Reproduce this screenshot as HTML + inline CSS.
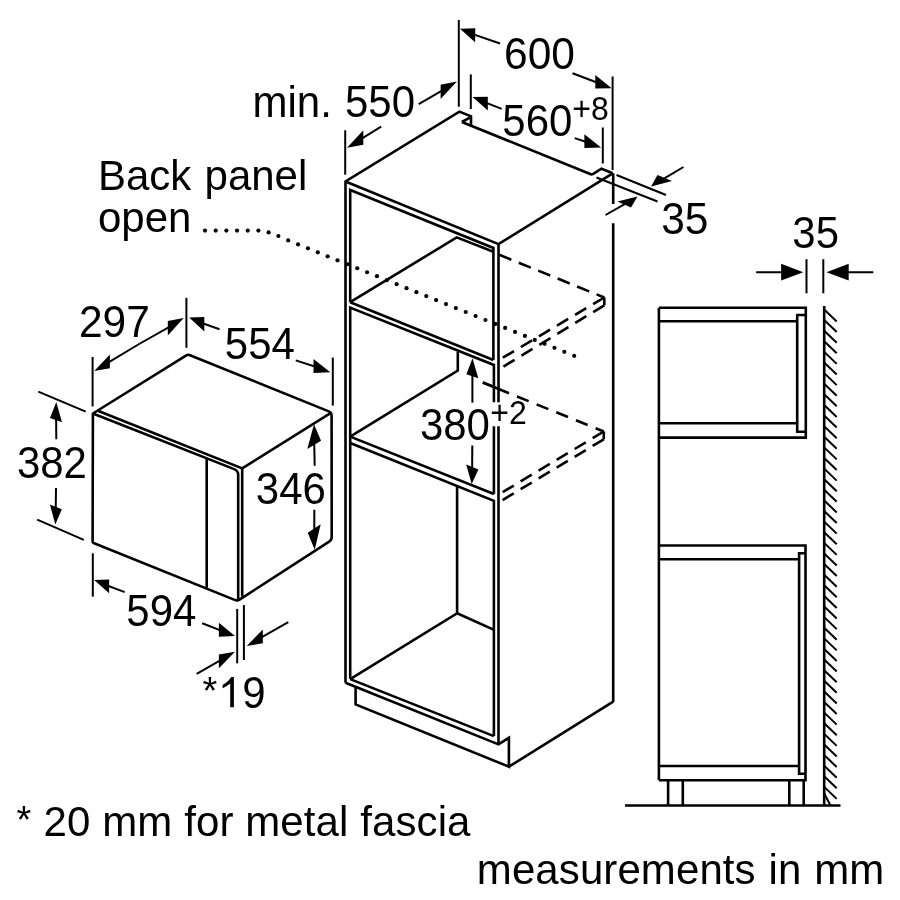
<!DOCTYPE html>
<html><head><meta charset="utf-8"><style>
html,body{margin:0;padding:0;background:#fff;}
svg{display:block;will-change:transform;}
text{font-family:"Liberation Sans",sans-serif;fill:#000;}
</style></head><body>
<svg width="900" height="900" viewBox="0 0 900 900">
<rect width="900" height="900" fill="#fff"/>
<g stroke="#000" stroke-linecap="butt" stroke-linejoin="miter" fill="none">
<path d="M92.91 413.49 L186.73 355.19 Q188 354.4 189.39 354.96 L328.82 411.37 Q331.6 412.5 331.6 415.5 L331.7 537 Q331.7 540 329.18 541.63 L239.92 599.37 Q237.4 601 234.62 599.88 L93.53 543.07 Q92.6 542.7 92.6 541.7 L92.9 413.51 Q92.9 413.5 92.91 413.49 Z" stroke-width="2.6" fill="none"/>
<line x1="242.2" y1="468.4" x2="330.1" y2="413.4" stroke-width="2.6"/>
<line x1="97.8" y1="410.8" x2="242.2" y2="468.4" stroke-width="2.6"/>
<line x1="242.2" y1="468.4" x2="242.2" y2="596.7" stroke-width="2.6"/>
<path d="M92.9 413.5 L234.2 469.13 Q238.2 470.73 238.2 474.63 L238.2 600" stroke-width="2.6" fill="none"/>
<line x1="206.7" y1="458.43" x2="206.7" y2="587.8" stroke-width="2.6"/>
<path d="M345.5 682.8 L345.5 181.5 L459.4 111.6 L471 116.4 L471 124.9" stroke-width="2.6" fill="none"/>
<path d="M461.9 122 L469.9 117.6" stroke-width="2.6" fill="none"/>
<line x1="461.9" y1="122" x2="592" y2="174.7" stroke-width="2.6"/>
<path d="M592 174.7 L601.5 168.7 L612.7 173.3" stroke-width="2.6" fill="none"/>
<path d="M345.5 181.5 L498.5 244.1 L612.7 173.3" stroke-width="2.6" fill="none"/>
<line x1="498.5" y1="244.1" x2="498.5" y2="402.3" stroke-width="2.6"/>
<line x1="498.5" y1="426.3" x2="498.5" y2="744.4" stroke-width="2.6"/>
<line x1="613.2" y1="173.3" x2="613.2" y2="204" stroke-width="2.6"/>
<line x1="613.2" y1="223.3" x2="613.2" y2="702" stroke-width="2.6"/>
<path d="M350.2 302.2 L350.2 190 L493.4 248 L493.4 360" stroke-width="2.6" fill="none"/>
<path d="M350.2 302.2 L456.7 237.4 L493.4 251.8" stroke-width="2.6" fill="none"/>
<line x1="350.2" y1="302.2" x2="493.4" y2="360" stroke-width="2.6"/>
<path d="M350.2 679.1 L350.2 307.6 L493.9 365 L493.9 402.3" stroke-width="2.6" fill="none"/>
<line x1="493.9" y1="426.3" x2="493.9" y2="494" stroke-width="2.6"/>
<path d="M457.8 352 L457.8 370.6 L350.2 436.6" stroke-width="2.6" fill="none"/>
<line x1="482.8" y1="382.5" x2="493.9" y2="386.9" stroke-width="2.6"/>
<line x1="350.2" y1="436.6" x2="493.9" y2="494" stroke-width="2.6"/>
<path d="M350.2 443 L493.9 500.9 L493.9 736.1" stroke-width="2.6" fill="none"/>
<path d="M457.1 486.7 L457.1 613.3 L350.2 679.1" stroke-width="2.6" fill="none"/>
<line x1="457.1" y1="613.3" x2="493.5" y2="629.6" stroke-width="2.6"/>
<line x1="350.2" y1="679.1" x2="493.9" y2="736.1" stroke-width="2.6"/>
<path d="M345.5 682.8 L498.5 744.4 L508.9 737.8 L508.9 766.7 L355.6 704.4 L355.6 686.9" stroke-width="2.6" fill="none"/>
<line x1="508.9" y1="766.7" x2="613.2" y2="701.7" stroke-width="2.6"/>
<line x1="499.3" y1="254.8" x2="604.3" y2="297.5" stroke-width="2.6" stroke-dasharray="13 8" stroke-dashoffset="0"/>
<path d="M604.3 297.5 L604.3 305.3" stroke-width="2.6" fill="none"/>
<line x1="604.3" y1="297.5" x2="499.3" y2="359.8" stroke-width="2.6" stroke-dasharray="13 8" stroke-dashoffset="0"/>
<line x1="604.3" y1="305.3" x2="499.3" y2="369.1" stroke-width="2.6" stroke-dasharray="13 8" stroke-dashoffset="0"/>
<line x1="482.8" y1="382.5" x2="509" y2="393.2" stroke-width="2.6"/>
<line x1="509" y1="393.2" x2="603.8" y2="431.5" stroke-width="2.6" stroke-dasharray="12.6 8.6" stroke-dashoffset="12.6"/>
<path d="M603.8 431.5 L603.8 439.3" stroke-width="2.6" fill="none"/>
<line x1="603.8" y1="431.5" x2="499.3" y2="494.2" stroke-width="2.6" stroke-dasharray="13 8" stroke-dashoffset="0"/>
<line x1="603.8" y1="439.3" x2="499.3" y2="502" stroke-width="2.6" stroke-dasharray="13 8" stroke-dashoffset="0"/>
<circle cx="205" cy="230.6" r="2.1" fill="#000" stroke="none"/>
<circle cx="215.68" cy="230.6" r="2.1" fill="#000" stroke="none"/>
<circle cx="226.36" cy="230.6" r="2.1" fill="#000" stroke="none"/>
<circle cx="237.04" cy="230.6" r="2.1" fill="#000" stroke="none"/>
<circle cx="247.72" cy="230.6" r="2.1" fill="#000" stroke="none"/>
<circle cx="258.4" cy="230.6" r="2.1" fill="#000" stroke="none"/>
<circle cx="268.6" cy="232.4" r="2.1" fill="#000" stroke="none"/>
<circle cx="278.4" cy="236" r="2.1" fill="#000" stroke="none"/>
<circle cx="288.2" cy="240.4" r="2.1" fill="#000" stroke="none"/>
<circle cx="298.06" cy="244.38" r="2.1" fill="#000" stroke="none"/>
<circle cx="307.92" cy="248.36" r="2.1" fill="#000" stroke="none"/>
<circle cx="317.79" cy="252.34" r="2.1" fill="#000" stroke="none"/>
<circle cx="327.65" cy="256.32" r="2.1" fill="#000" stroke="none"/>
<circle cx="337.51" cy="260.3" r="2.1" fill="#000" stroke="none"/>
<circle cx="347.37" cy="264.27" r="2.1" fill="#000" stroke="none"/>
<circle cx="357.23" cy="268.25" r="2.1" fill="#000" stroke="none"/>
<circle cx="367.1" cy="272.23" r="2.1" fill="#000" stroke="none"/>
<circle cx="376.96" cy="276.21" r="2.1" fill="#000" stroke="none"/>
<circle cx="386.82" cy="280.19" r="2.1" fill="#000" stroke="none"/>
<circle cx="396.68" cy="284.17" r="2.1" fill="#000" stroke="none"/>
<circle cx="406.54" cy="288.15" r="2.1" fill="#000" stroke="none"/>
<circle cx="416.41" cy="292.13" r="2.1" fill="#000" stroke="none"/>
<circle cx="426.27" cy="296.11" r="2.1" fill="#000" stroke="none"/>
<circle cx="436.13" cy="300.09" r="2.1" fill="#000" stroke="none"/>
<circle cx="445.99" cy="304.06" r="2.1" fill="#000" stroke="none"/>
<circle cx="455.85" cy="308.04" r="2.1" fill="#000" stroke="none"/>
<circle cx="465.72" cy="312.02" r="2.1" fill="#000" stroke="none"/>
<circle cx="475.58" cy="316" r="2.1" fill="#000" stroke="none"/>
<circle cx="485.44" cy="319.98" r="2.1" fill="#000" stroke="none"/>
<circle cx="495.3" cy="323.96" r="2.1" fill="#000" stroke="none"/>
<circle cx="505.16" cy="327.94" r="2.1" fill="#000" stroke="none"/>
<circle cx="515.03" cy="331.92" r="2.1" fill="#000" stroke="none"/>
<circle cx="524.89" cy="335.9" r="2.1" fill="#000" stroke="none"/>
<circle cx="534.75" cy="339.88" r="2.1" fill="#000" stroke="none"/>
<circle cx="544.61" cy="343.85" r="2.1" fill="#000" stroke="none"/>
<circle cx="554.47" cy="347.83" r="2.1" fill="#000" stroke="none"/>
<circle cx="564.34" cy="351.81" r="2.1" fill="#000" stroke="none"/>
<circle cx="574.2" cy="355.79" r="2.1" fill="#000" stroke="none"/>
<line x1="658.9" y1="307.8" x2="658.9" y2="780.2" stroke-width="2.6"/>
<path d="M658.9 307.8 L805.8 307.8 L805.8 437.6 L658.9 437.6" stroke-width="2.6" fill="none"/>
<line x1="658.9" y1="321.3" x2="797.2" y2="321.3" stroke-width="2.6"/>
<line x1="658.9" y1="423.3" x2="797.2" y2="423.3" stroke-width="2.6"/>
<path d="M805.8 315 L797.2 315 L797.2 431.7 L805.8 431.7" stroke-width="2.6" fill="none"/>
<path d="M658.9 545.5 L805.5 545.5 L805.5 780.2 L658.9 780.2" stroke-width="2.6" fill="none"/>
<line x1="658.9" y1="559.2" x2="799.1" y2="559.2" stroke-width="2.6"/>
<line x1="658.9" y1="766" x2="799.1" y2="766" stroke-width="2.6"/>
<path d="M805.5 553.3 L799.1 553.3 L799.1 773.8 L805.5 773.8" stroke-width="2.6" fill="none"/>
<path d="M668.1 780.2 L668.1 805.5" stroke-width="2.6" fill="none"/>
<path d="M682.8 780.2 L682.8 805.5" stroke-width="2.6" fill="none"/>
<path d="M789.3 780.2 L789.3 805.5" stroke-width="2.6" fill="none"/>
<path d="M803.7 780.2 L803.7 805.5" stroke-width="2.6" fill="none"/>
<line x1="625" y1="805.5" x2="840.5" y2="805.5" stroke-width="2.6"/>
<line x1="824.2" y1="306" x2="824.2" y2="805.5" stroke-width="2.6"/>
<line x1="824.2" y1="786.9" x2="836.7" y2="798.9" stroke-width="2.0"/>
<line x1="824.2" y1="776.29" x2="836.7" y2="788.29" stroke-width="2.0"/>
<line x1="824.2" y1="765.68" x2="836.7" y2="777.68" stroke-width="2.0"/>
<line x1="824.2" y1="755.07" x2="836.7" y2="767.07" stroke-width="2.0"/>
<line x1="824.2" y1="744.46" x2="836.7" y2="756.46" stroke-width="2.0"/>
<line x1="824.2" y1="733.85" x2="836.7" y2="745.85" stroke-width="2.0"/>
<line x1="824.2" y1="723.24" x2="836.7" y2="735.24" stroke-width="2.0"/>
<line x1="824.2" y1="712.63" x2="836.7" y2="724.63" stroke-width="2.0"/>
<line x1="824.2" y1="702.02" x2="836.7" y2="714.02" stroke-width="2.0"/>
<line x1="824.2" y1="691.41" x2="836.7" y2="703.41" stroke-width="2.0"/>
<line x1="824.2" y1="680.8" x2="836.7" y2="692.8" stroke-width="2.0"/>
<line x1="824.2" y1="670.19" x2="836.7" y2="682.19" stroke-width="2.0"/>
<line x1="824.2" y1="659.58" x2="836.7" y2="671.58" stroke-width="2.0"/>
<line x1="824.2" y1="648.97" x2="836.7" y2="660.97" stroke-width="2.0"/>
<line x1="824.2" y1="638.36" x2="836.7" y2="650.36" stroke-width="2.0"/>
<line x1="824.2" y1="627.75" x2="836.7" y2="639.75" stroke-width="2.0"/>
<line x1="824.2" y1="617.14" x2="836.7" y2="629.14" stroke-width="2.0"/>
<line x1="824.2" y1="606.53" x2="836.7" y2="618.53" stroke-width="2.0"/>
<line x1="824.2" y1="595.92" x2="836.7" y2="607.92" stroke-width="2.0"/>
<line x1="824.2" y1="585.31" x2="836.7" y2="597.31" stroke-width="2.0"/>
<line x1="824.2" y1="574.7" x2="836.7" y2="586.7" stroke-width="2.0"/>
<line x1="824.2" y1="564.09" x2="836.7" y2="576.09" stroke-width="2.0"/>
<line x1="824.2" y1="553.48" x2="836.7" y2="565.48" stroke-width="2.0"/>
<line x1="824.2" y1="542.87" x2="836.7" y2="554.87" stroke-width="2.0"/>
<line x1="824.2" y1="532.26" x2="836.7" y2="544.26" stroke-width="2.0"/>
<line x1="824.2" y1="521.65" x2="836.7" y2="533.65" stroke-width="2.0"/>
<line x1="824.2" y1="511.04" x2="836.7" y2="523.04" stroke-width="2.0"/>
<line x1="824.2" y1="500.43" x2="836.7" y2="512.43" stroke-width="2.0"/>
<line x1="824.2" y1="489.82" x2="836.7" y2="501.82" stroke-width="2.0"/>
<line x1="824.2" y1="479.21" x2="836.7" y2="491.21" stroke-width="2.0"/>
<line x1="824.2" y1="468.6" x2="836.7" y2="480.6" stroke-width="2.0"/>
<line x1="824.2" y1="457.99" x2="836.7" y2="469.99" stroke-width="2.0"/>
<line x1="824.2" y1="447.38" x2="836.7" y2="459.38" stroke-width="2.0"/>
<line x1="824.2" y1="436.77" x2="836.7" y2="448.77" stroke-width="2.0"/>
<line x1="824.2" y1="426.16" x2="836.7" y2="438.16" stroke-width="2.0"/>
<line x1="824.2" y1="415.55" x2="836.7" y2="427.55" stroke-width="2.0"/>
<line x1="824.2" y1="404.94" x2="836.7" y2="416.94" stroke-width="2.0"/>
<line x1="824.2" y1="394.33" x2="836.7" y2="406.33" stroke-width="2.0"/>
<line x1="824.2" y1="383.72" x2="836.7" y2="395.72" stroke-width="2.0"/>
<line x1="824.2" y1="373.11" x2="836.7" y2="385.11" stroke-width="2.0"/>
<line x1="824.2" y1="362.5" x2="836.7" y2="374.5" stroke-width="2.0"/>
<line x1="824.2" y1="351.89" x2="836.7" y2="363.89" stroke-width="2.0"/>
<line x1="824.2" y1="341.28" x2="836.7" y2="353.28" stroke-width="2.0"/>
<line x1="824.2" y1="330.67" x2="836.7" y2="342.67" stroke-width="2.0"/>
<line x1="824.2" y1="320.06" x2="836.7" y2="332.06" stroke-width="2.0"/>
<line x1="824.2" y1="309.45" x2="836.7" y2="321.45" stroke-width="2.0"/>
<line x1="824.2" y1="793.5" x2="830.5" y2="805.5" stroke-width="2.0"/>
<line x1="345.2" y1="130.3" x2="345.2" y2="174.7" stroke-width="2.0"/>
<line x1="458.8" y1="20" x2="458.8" y2="106.7" stroke-width="2.0"/>
<path d="M456.9 81.4 L440.6 84.7 L440.6 98.9 Z" fill="#000" stroke="none"/>
<line x1="445.49" y1="88.68" x2="418.7" y2="104.2" stroke-width="2.0"/>
<path d="M347 147.7 L363.3 130.3 L363.3 144.7 Z" fill="#000" stroke="none"/>
<line x1="358.41" y1="140.56" x2="381.2" y2="126.7" stroke-width="2.0"/>
<line x1="612.6" y1="76.5" x2="612.6" y2="170" stroke-width="2.0"/>
<path d="M460 28.7 L475.3 28.3 L475.1 42.3 Z" fill="#000" stroke="none"/>
<line x1="470.64" y1="33.32" x2="500" y2="43.5" stroke-width="2.0"/>
<path d="M611.7 88.3 L595.3 75 L595.3 88.6 Z" fill="#000" stroke="none"/>
<line x1="600.22" y1="83.75" x2="572.5" y2="73.3" stroke-width="2.0"/>
<line x1="470.8" y1="74.4" x2="470.8" y2="109" stroke-width="2.0"/>
<line x1="602.8" y1="127.5" x2="602.8" y2="163.5" stroke-width="2.0"/>
<path d="M472.5 96.9 L487.8 96.7 L487.8 110.6 Z" fill="#000" stroke="none"/>
<line x1="483.21" y1="101.62" x2="501.7" y2="108.9" stroke-width="2.0"/>
<path d="M601.1 147.5 L584.4 134.2 L584.4 148.1 Z" fill="#000" stroke="none"/>
<line x1="589.41" y1="143.05" x2="574.7" y2="138.1" stroke-width="2.0"/>
<line x1="616.5" y1="175" x2="666" y2="195" stroke-width="2.0"/>
<line x1="596.5" y1="177.5" x2="657.5" y2="201.5" stroke-width="2.0"/>
<path d="M651 186.5 L657.5 175 L672 181 Z" fill="#000" stroke="none"/>
<line x1="660.62" y1="180.55" x2="683.5" y2="167" stroke-width="2.0"/>
<path d="M637.5 196.5 L617.5 201.5 L631 207.5 Z" fill="#000" stroke="none"/>
<line x1="628.23" y1="202.1" x2="605.5" y2="215" stroke-width="2.0"/>
<line x1="92.6" y1="357" x2="92.6" y2="406.5" stroke-width="2.0"/>
<line x1="186.4" y1="297.8" x2="186.4" y2="347.8" stroke-width="2.0"/>
<path d="M94.25 371 L109.9 354.5 L109.9 368.3 Z" fill="#000" stroke="none"/>
<line x1="105.2" y1="364.28" x2="140" y2="343.5" stroke-width="2.0"/>
<path d="M183.7 317.9 L167.8 321 L167.8 335.4 Z" fill="#000" stroke="none"/>
<line x1="172.57" y1="325.11" x2="140" y2="343.5" stroke-width="2.0"/>
<line x1="332.8" y1="357.6" x2="332.8" y2="405.6" stroke-width="2.0"/>
<path d="M189.2 317.5 L204.3 317.1 L204.3 331.5 Z" fill="#000" stroke="none"/>
<line x1="199.77" y1="322.26" x2="219.5" y2="329.2" stroke-width="2.0"/>
<path d="M330.3 372.3 L313.5 358.9 L313.5 372.9 Z" fill="#000" stroke="none"/>
<line x1="318.54" y1="367.82" x2="295.8" y2="360.4" stroke-width="2.0"/>
<line x1="38.3" y1="391.7" x2="85.7" y2="411.7" stroke-width="2.0"/>
<line x1="37.2" y1="519.7" x2="83.8" y2="539.9" stroke-width="2.0"/>
<path d="M56.3 402 L50 418 L62 422.3 Z" fill="#000" stroke="none"/>
<line x1="56.09" y1="414.7" x2="56.3" y2="439.3" stroke-width="2.0"/>
<path d="M55.3 524.4 L49.9 504.5 L61.8 509.2 Z" fill="#000" stroke="none"/>
<line x1="55.68" y1="512.12" x2="56" y2="487.9" stroke-width="2.0"/>
<path d="M314 424.3 L307.3 449 L321 440.7 Z" fill="#000" stroke="none"/>
<line x1="314.1" y1="438.69" x2="314.7" y2="465.7" stroke-width="2.0"/>
<path d="M314.7 549.7 L307.7 532.7 L320.7 524.3 Z" fill="#000" stroke="none"/>
<line x1="314.35" y1="534.86" x2="314.3" y2="509.7" stroke-width="2.0"/>
<path d="M472.5 358.3 L466.4 374.2 L478.3 378.3 Z" fill="#000" stroke="none"/>
<line x1="472.4" y1="370.87" x2="472.4" y2="402.7" stroke-width="2.0"/>
<path d="M471.7 484 L466.2 464.4 L478.4 469.6 Z" fill="#000" stroke="none"/>
<line x1="472.12" y1="472.1" x2="472.3" y2="445.5" stroke-width="2.0"/>
<line x1="92.8" y1="553.3" x2="92.8" y2="596.7" stroke-width="2.0"/>
<path d="M94.2 579.9 L109.1 579.6 L109.1 593.3 Z" fill="#000" stroke="none"/>
<line x1="104.63" y1="584.49" x2="124.7" y2="592.1" stroke-width="2.0"/>
<path d="M235 636.1 L218.9 622.8 L218.9 636.7 Z" fill="#000" stroke="none"/>
<line x1="223.73" y1="631.65" x2="202.2" y2="623.3" stroke-width="2.0"/>
<line x1="237.2" y1="608.9" x2="237.2" y2="663.3" stroke-width="2.0"/>
<line x1="243.9" y1="605" x2="243.9" y2="660" stroke-width="2.0"/>
<path d="M246.7 646.1 L262.8 629.4 L262.8 643.3 Z" fill="#000" stroke="none"/>
<line x1="257.97" y1="639.27" x2="288.3" y2="622.2" stroke-width="2.0"/>
<path d="M235 651.7 L218.9 654.4 L218.9 668.3 Z" fill="#000" stroke="none"/>
<line x1="223.73" y1="658.45" x2="196.7" y2="673.9" stroke-width="2.0"/>
<line x1="806.5" y1="259.2" x2="806.5" y2="293.3" stroke-width="2.0"/>
<line x1="823.3" y1="259.2" x2="823.3" y2="293.3" stroke-width="2.0"/>
<path d="M803.3 272.2 L781.1 263.8 L781.1 280.4 Z" fill="#000" stroke="none"/>
<line x1="787.76" y1="272.13" x2="756.2" y2="272.2" stroke-width="2.0"/>
<path d="M826.5 272.2 L848.7 263.8 L848.7 280.4 Z" fill="#000" stroke="none"/>
<line x1="842.04" y1="272.13" x2="873.3" y2="272.2" stroke-width="2.0"/>
<path d="M233.9 677.1 L231.3 677.1 L228.6 680.4 L225.6 683.1 L222.6 684.9 L222.6 688.2 L226.4 686.3 L230.2 683.4 L230.2 707.3 L233.9 707.3 Z" fill="#000" stroke="none"/>
</g>
<g>
<text transform="translate(252.5 117.3) scale(1 1.035)" font-size="42" text-anchor="start" word-spacing="1.5">min. 550</text>
<text transform="translate(504 68.8) scale(1 1.035)" font-size="42.5" text-anchor="start">600</text>
<text transform="translate(502.3 136.2) scale(1 1.035)" font-size="42" text-anchor="start">560</text>
<text transform="translate(572.3 119.7) scale(1 1.035)" font-size="32" text-anchor="start">+8</text>
<text transform="translate(98 189.8) scale(1 1.0)" font-size="42" text-anchor="start" word-spacing="1.5">Back panel</text>
<text transform="translate(98 232.2) scale(1 1.0)" font-size="42" text-anchor="start">open</text>
<text transform="translate(661.2 233.6) scale(1 1.035)" font-size="42.5" text-anchor="start">35</text>
<text transform="translate(792.3 247.8) scale(1 1.035)" font-size="42" text-anchor="start">35</text>
<text transform="translate(78.9 337.2) scale(1 1.035)" font-size="42.5" text-anchor="start">297</text>
<text transform="translate(224.8 358.5) scale(1 1.035)" font-size="42" text-anchor="start">554</text>
<text transform="translate(16.9 477.5) scale(1 1.035)" font-size="42" text-anchor="start">382</text>
<text transform="translate(255.8 504) scale(1 1.035)" font-size="42" text-anchor="start">346</text>
<text transform="translate(419.9 440.2) scale(1 1.035)" font-size="42" text-anchor="start">380</text>
<text transform="translate(490.2 423.7) scale(1 1.035)" font-size="32" text-anchor="start">+2</text>
<text transform="translate(126.3 625.8) scale(1 1.035)" font-size="42" text-anchor="start">594</text>
<text transform="translate(202.5 703.5) scale(1 1.035)" font-size="38" text-anchor="start">*</text>
<text transform="translate(242.35 707.6) scale(1 1.035)" font-size="42" text-anchor="start">9</text>
<text transform="translate(16.5 833) scale(1 1.035)" font-size="38" text-anchor="start">*</text>
<text transform="translate(20 836.2) scale(1 1.0)" font-size="42" text-anchor="start" letter-spacing="0.1">&#160; 20 mm for metal fascia</text>
<text transform="translate(476.8 884.4) scale(1 0.99)" font-size="42" text-anchor="start" letter-spacing="0.1" word-spacing="1">measurements in mm</text>
</g>
</svg>
</body></html>
